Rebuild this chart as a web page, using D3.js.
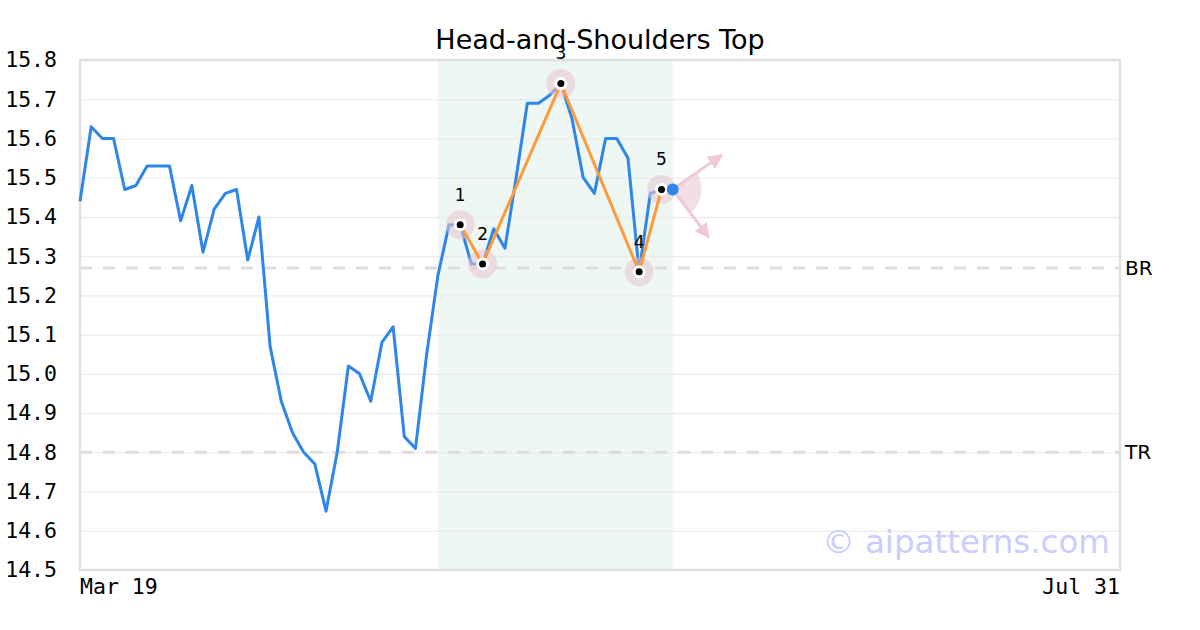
<!DOCTYPE html>
<html>
<head>
<meta charset="utf-8">
<script src="https://cdn.jsdelivr.net/npm/d3@7/dist/d3.min.js"></script>
<style>
  html, body { margin: 0; padding: 0; background: #fff; }
  svg { display: block; }
</style>
</head>
<body>
<svg id="chart" width="1200" height="630"></svg>
<script>
// ---------- data ----------
const title = "Head-and-Shoulders Top";
const xTickLabels = ["Mar 19", "Jul 31"];
const xDomainMax = 93; // trading-day index of Jul 31
const prices = [
  15.44, 15.63, 15.60, 15.60, 15.47, 15.48, 15.53, 15.53, 15.53, 15.39,
  15.48, 15.31, 15.42, 15.46, 15.47, 15.29, 15.40, 15.07, 14.93, 14.85,
  14.80, 14.77, 14.65, 14.80, 15.02, 15.00, 14.93, 15.08, 15.12, 14.84,
  14.81, 15.05, 15.25, 15.38, 15.38, 15.28, 15.28, 15.37, 15.32, 15.50,
  15.69, 15.69, 15.71, 15.74, 15.65, 15.50, 15.46, 15.60, 15.60, 15.55,
  15.26, 15.46, 15.47, 15.47
];
const yTicks = [14.5, 14.6, 14.7, 14.8, 14.9, 15.0, 15.1, 15.2, 15.3, 15.4, 15.5, 15.6, 15.7, 15.8];
const patternLabels = ["1", "2", "3", "4", "5"];
const patternIdx = [34, 36, 43, 50, 52];
const patternVal = [15.38, 15.28, 15.74, 15.26, 15.47];
const zoneRange = [32, 53];
const levelNames = ["BR", "TR"];
const levelValues = [15.27, 14.80];
const arrowAnglesDeg = [-35, 53];   // projection arrows from last point
const watermark = "© aipatterns.com";

// ---------- layout ----------
const svg = d3.select("#chart");
const L = 80, R = 1120, T = 60, B = 570;
const x = d3.scaleLinear().domain([0, xDomainMax]).range([L, R]);
const y = d3.scaleLinear().domain([14.5, 15.8]).range([B, T]);

const blue = "#2e86e8", orange = "#ff9a3c", pink = "#e8c4cf";

// shaded pattern zone
svg.append("rect")
  .attr("x", x(zoneRange[0])).attr("y", T)
  .attr("width", x(zoneRange[1]) - x(zoneRange[0])).attr("height", B - T)
  .attr("fill", "#eef7f3");

// grid
const gridAxis = d3.axisLeft(y).tickValues(yTicks).tickSize(-(R - L)).tickFormat("");
const g = svg.append("g").attr("transform", `translate(${L},0)`).call(gridAxis);
g.select(".domain").remove();
g.selectAll("line").attr("stroke", "#e8e8e8").attr("stroke-width", 1);

// level lines
levelValues.forEach((v, i) => {
  svg.append("line")
    .attr("x1", L).attr("x2", R).attr("y1", y(v)).attr("y2", y(v))
    .attr("stroke", "#dddddd").attr("stroke-width", 3).attr("stroke-dasharray", "12,11");
  svg.append("text")
    .attr("x", R + 5).attr("y", y(v)).attr("dy", "0.35em")
    .attr("font-family", "DejaVu Sans").attr("font-size", 20).attr("fill", "#000")
    .text(levelNames[i]);
});

// border
svg.append("rect").attr("x", L).attr("y", T).attr("width", R - L).attr("height", B - T)
  .attr("fill", "none").attr("stroke", "#e0e0e0").attr("stroke-width", 2.5);

// y tick labels
const yAxis = d3.axisLeft(y).tickValues(yTicks).tickSize(0).tickPadding(23).tickFormat(d3.format(".1f"));
const ya = svg.append("g").attr("transform", `translate(${L},0)`).call(yAxis);
ya.select(".domain").remove();
ya.selectAll("text").attr("font-family", "DejaVu Sans Mono").attr("font-size", 21.5).attr("fill", "#000");

// x tick labels
svg.append("text").attr("x", x(0)).attr("y", 594).attr("text-anchor", "start")
  .attr("font-family", "DejaVu Sans Mono").attr("font-size", 21.5).text(xTickLabels[0]);
svg.append("text").attr("x", x(xDomainMax)).attr("y", 594).attr("text-anchor", "end")
  .attr("font-family", "DejaVu Sans Mono").attr("font-size", 21.5).text(xTickLabels[1]);

// price line
const line = d3.line().x((d, i) => x(i)).y(d => y(d));
svg.append("path").datum(prices).attr("d", line)
  .attr("fill", "none").attr("stroke", blue).attr("stroke-width", 3).attr("stroke-linejoin", "round");

// projection wedge + arrows
const lastI = prices.length - 1;
const cx = x(lastI), cy = y(prices[lastI]);
const a0 = arrowAnglesDeg[0] * Math.PI / 180, a1 = arrowAnglesDeg[1] * Math.PI / 180;
svg.append("path")
  .attr("transform", `translate(${cx},${cy})`)
  .attr("d", d3.arc()({ innerRadius: 0, outerRadius: 29, startAngle: a0 + Math.PI / 2, endAngle: a1 + Math.PI / 2 }))
  .attr("fill", pink).attr("opacity", 0.55);
const defs = svg.append("defs");
defs.append("marker").attr("id", "ah").attr("viewBox", "0 0 10 10").attr("refX", 9).attr("refY", 5)
  .attr("markerWidth", 5).attr("markerHeight", 5).attr("orient", "auto")
  .append("path").attr("d", "M0,0 L10,5 L0,10 z").attr("fill", "#efc9d4");
arrowAnglesDeg.forEach(deg => {
  const a = deg * Math.PI / 180;
  svg.append("line").attr("x1", cx).attr("y1", cy)
    .attr("x2", cx + 60 * Math.cos(a)).attr("y2", cy + 60 * Math.sin(a))
    .attr("stroke", "#efc9d4").attr("stroke-width", 3).attr("marker-end", "url(#ah)");
});

// pattern markers
const pts = patternIdx.map((i, k) => ({ x: x(i), y: y(patternVal[k]), label: patternLabels[k] }));
svg.selectAll(".halo").data(pts).enter().append("circle")
  .attr("cx", d => d.x).attr("cy", d => d.y).attr("r", 14.5)
  .attr("fill", pink).attr("opacity", 0.55);
svg.append("path").datum(pts)
  .attr("d", d3.line().x(d => d.x).y(d => d.y))
  .attr("fill", "none").attr("stroke", orange).attr("stroke-width", 3);
svg.selectAll(".wh").data(pts).enter().append("circle")
  .attr("cx", d => d.x).attr("cy", d => d.y).attr("r", 6.5).attr("fill", "#fff");
svg.selectAll(".bk").data(pts).enter().append("circle")
  .attr("cx", d => d.x).attr("cy", d => d.y).attr("r", 3.5).attr("fill", "#000");
svg.selectAll(".pl").data(pts).enter().append("text")
  .attr("x", d => d.x).attr("y", d => d.y - 30).attr("dy", "0.35em")
  .attr("text-anchor", "middle").attr("font-family", "DejaVu Sans").attr("font-size", 17)
  .text(d => d.label);

// last point
svg.append("circle").attr("cx", cx).attr("cy", cy).attr("r", 6).attr("fill", blue);

// watermark
svg.append("text").attr("x", 1110).attr("y", 553).attr("text-anchor", "end")
  .attr("font-family", "DejaVu Sans").attr("font-size", 32.5).attr("fill", "#ccccff")
  .text(watermark);

// title
svg.append("text").attr("x", 600).attr("y", 49).attr("text-anchor", "middle")
  .attr("font-family", "DejaVu Sans").attr("font-size", 27).attr("fill", "#000")
  .text(title);
</script>
</body>
</html>
